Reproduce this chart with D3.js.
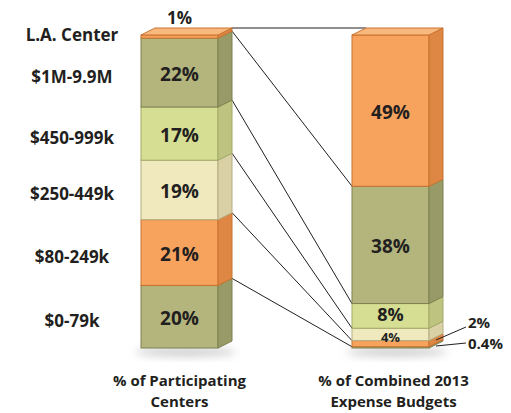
<!DOCTYPE html>
<html><head><meta charset="utf-8">
<script src="https://cdn.jsdelivr.net/npm/d3@7"></script>
<style>body{margin:0;background:#fff}svg{display:block}text{font-family:"Open Sans","Noto Sans",sans-serif;font-weight:700;fill:#231f20}</style>
</head><body><svg id="c" width="511" height="413"></svg>
<script>
// Data (bottom to top)
const categories = ["$0-79k","$80-249k","$250-449k","$450-999k","$1M-9.9M","L.A. Center"];
const centersPct = [20,21,19,17,22,1];
const budgetPct = [0.4,2,4,8,38,49];
const centersLabels = ["20%","21%","19%","17%","22%","1%"];
const budgetLabels = ["0.4%","2%","4%","8%","38%","49%"];
const axisTitles = [["% of Participating","Centers"],["% of Combined 2013","Expense Budgets"]];

const palette = [
  {front:"#b3b57d", side:"#989b67", top:"#c3c592", stroke:"#7d8150"},
  {front:"#f7a35e", side:"#de8744", top:"#f9b97e", stroke:"#c8722e"},
  {front:"#f1e9be", side:"#d9d1a5", top:"#f6f0d2", stroke:"#b4ad82"},
  {front:"#d5de93", side:"#bec47f", top:"#e1e8ad", stroke:"#a3aa66"},
  {front:"#b3b57d", side:"#989b67", top:"#c3c592", stroke:"#7d8150"},
  {front:"#f7a35e", side:"#de8744", top:"#f9b97e", stroke:"#c8722e"}
];

const svg = d3.select("#c");
const dx = 14, dy = 7, bw = 77;
const barX = [141, 352];

function stack(vals){ let c=0; return vals.map(v=>{const s=c; c+=v; return [s,c];}); }

const defs = svg.append("defs");
const f = defs.append("filter").attr("id","blur").attr("x","-50%").attr("y","-50%").attr("width","200%").attr("height","200%");
f.append("feGaussianBlur").attr("stdDeviation",4);

const bars = [
  {vals:centersPct, labels:centersLabels, x0:barX[0]},
  {vals:budgetPct, labels:budgetLabels, x0:barX[1]}
];
bars.forEach(b=>{
  b.y = d3.scaleLinear().domain([0, d3.sum(b.vals)]).range([348, 35]);
  b.st = stack(b.vals);
});

// shadows
bars.forEach(b=>{
  svg.append("ellipse").attr("cx", b.x0+bw/2+6).attr("cy", 352).attr("rx", 50).attr("ry", 5)
    .attr("fill","#999").attr("opacity",0.45).attr("filter","url(#blur)");
});

// connecting lines
const L = bars[0], R = bars[1];
const lg = svg.append("g").attr("stroke","#231f20").attr("stroke-width",1).attr("fill","none");
lg.append("line").attr("x1",L.x0+bw+dx).attr("y1",L.y(d3.sum(L.vals))-dy).attr("x2",R.x0+dx).attr("y2",R.y(d3.sum(R.vals))-dy);
for(let i=1;i<categories.length;i++){
  const ly = L.y(L.st[i][0]) - dy, ry = R.y(R.st[i][0]);
  lg.append("line").attr("x1",L.x0+bw+dx).attr("y1",ly).attr("x2",R.x0).attr("y2",ry);
}

// draw bars
bars.forEach(b=>{
  const g = svg.append("g");
  b.vals.forEach((v,i)=>{
    const y0 = b.y(b.st[i][0]), y1 = b.y(b.st[i][1]);
    const c = palette[i];
    g.append("rect").attr("x",b.x0).attr("y",y1).attr("width",bw).attr("height",Math.max(0,y0-y1))
      .attr("fill",c.front).attr("stroke",c.stroke).attr("stroke-width",1);
    g.append("path").attr("d",`M${b.x0+bw},${y1}L${b.x0+bw+dx},${y1-dy}L${b.x0+bw+dx},${y0-dy}L${b.x0+bw},${y0}Z`)
      .attr("fill",c.side).attr("stroke",c.stroke).attr("stroke-width",1).attr("stroke-linejoin","round");
    if(i===b.vals.length-1){
      g.append("path").attr("d",`M${b.x0},${y1}L${b.x0+dx},${y1-dy}L${b.x0+bw+dx},${y1-dy}L${b.x0+bw},${y1}Z`)
        .attr("fill",c.top).attr("stroke",c.stroke).attr("stroke-width",1).attr("stroke-linejoin","round");
    }
  });
});

// value labels
bars.forEach((b,bi)=>{
  b.vals.forEach((v,i)=>{
    const y0 = b.y(b.st[i][0]), y1 = b.y(b.st[i][1]);
    let tx = b.x0+bw/2, ty = (y0+y1)/2 + 8, size = 19;
    if(bi===0 && i===5){ ty = 24; size = 17; }
    if(bi===1 && i===3){ ty = 321; size = 18; }
    if(bi===1 && i===2){ ty = 342; size = 13; }
    if(bi===1 && i<2){
      const lx = 466, lty = i===1 ? 327 : 343;
      const sy = i===1 ? 340 : 346;
      svg.append("line").attr("x1", b.x0+bw+dx/2).attr("y1", sy).attr("x2", lx).attr("y2", lty)
        .attr("stroke","#231f20").attr("stroke-width",1);
      svg.append("text").attr("x", lx+2).attr("y", i===1 ? 328 : 349).attr("font-size",15).text(b.labels[i]);
      return;
    }
    svg.append("text").attr("x",tx).attr("y",ty).attr("text-anchor","middle").attr("font-size",size).text(b.labels[i]);
  });
});

// category labels
categories.forEach((c,i)=>{
  const y0 = L.y(L.st[i][0]), y1 = L.y(L.st[i][1]);
  let ty = (y0+y1)/2 + 10;
  if(i===5) ty = 41;
  svg.append("text").attr("x",72).attr("y",ty).attr("text-anchor","middle").attr("font-size",17).text(c);
});

// axis titles
axisTitles.forEach((t,i)=>{
  const cx = bars[i].x0 + bw/2 + (i===0?0:3);
  t.forEach((line,j)=>{
    svg.append("text").attr("x",cx).attr("y",386+j*21).attr("text-anchor","middle").attr("font-size",15).text(line);
  });
});
</script></body></html>
